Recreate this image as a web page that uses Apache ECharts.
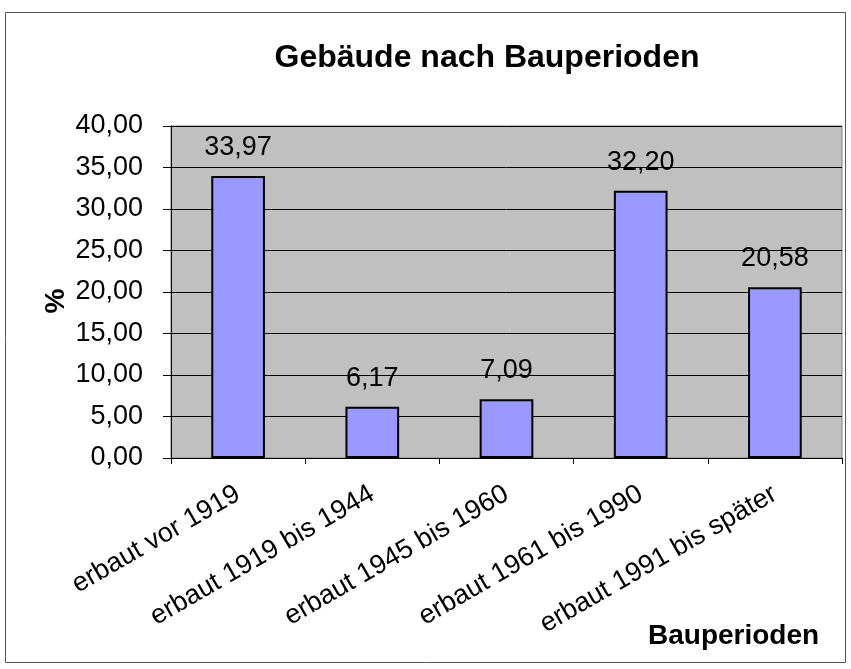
<!DOCTYPE html>
<html>
<head>
<meta charset="utf-8">
<script src="https://cdn.jsdelivr.net/npm/echarts@6/dist/echarts.min.js"></script>
<style>
  html, body { margin: 0; padding: 0; background: #fff; }
  #chart { width: 851px; height: 669px; }
</style>
</head>
<body>
<div id="chart"></div>
<script>
const categories = ['erbaut vor 1919', 'erbaut 1919 bis 1944', 'erbaut 1945 bis 1960', 'erbaut 1961 bis 1990', 'erbaut 1991 bis später']
const values = [33.97, 6.17, 7.09, 32.20, 20.58]
const yTicks = { min: 0, max: 40, interval: 5 }

const chart = echarts.init(document.getElementById('chart'))
const fmt = (v) => Number(v).toFixed(2).replace('.', ',')
const font = 'Arial, "Liberation Sans", sans-serif'

const option = {
  backgroundColor: '#fff',
  animation: false,
  textStyle: { fontFamily: font },
  title: {
    text: 'Gebäude nach Bauperioden',
    left: 482,
    textAlign: 'center',
    top: 37,
    textStyle: { fontSize: 32, fontWeight: 'bold', color: '#000', fontFamily: font }
  },
  graphic: [
    {
      type: 'rect',
      shape: { x: 5.5, y: 12.5, width: 840, height: 650 },
      style: { fill: 'none', stroke: '#555', lineWidth: 1 },
      silent: true
    },
    {
      // y axis title
      type: 'text',
      x: 56,
      y: 301,
      rotation: Math.PI / 2,
      style: { text: '%', font: 'bold 28px ' + font, fill: '#000', align: 'center', verticalAlign: 'middle' }
    },
    {
      // x axis title
      type: 'text',
      left: 648,
      top: 622,
      style: { text: 'Bauperioden', font: 'bold 28px ' + font, fill: '#000' }
    }
  ],
  grid: {
    left: 171,
    right: 9,
    top: 126,
    bottom: 211,
    show: true,
    backgroundColor: '#C0C0C0',
    borderColor: '#808080',
    borderWidth: 1
  },
  xAxis: {
    type: 'category',
    data: categories,
    axisLine: { lineStyle: { color: '#000', width: 1 } },
    axisTick: { show: true, length: 6, alignWithLabel: false, lineStyle: { color: '#000' } },
    axisLabel: {
      rotate: 30,
      fontSize: 27,
      color: '#000',
      margin: 34,
      fontFamily: font
    }
  },
  yAxis: {
    type: 'value',
    min: yTicks.min,
    max: yTicks.max,
    interval: yTicks.interval,
    axisLine: { show: true, lineStyle: { color: '#000' } },
    axisTick: { show: true, length: 8, lineStyle: { color: '#000' } },
    axisLabel: { fontSize: 27, color: '#000', margin: 28, formatter: fmt, fontFamily: font },
    splitLine: { show: true, lineStyle: { color: '#000', width: 1 } }
  },
  series: [
    {
      type: 'bar',
      data: values,
      barWidth: '40%',
      itemStyle: { color: '#9999FF', borderColor: '#000', borderWidth: 2 },
      label: {
        show: true,
        position: 'top',
        distance: 15,
        fontSize: 27,
        color: '#000',
        fontFamily: font,
        formatter: (p) => fmt(p.value)
      }
    }
  ]
}

chart.setOption(option)

window.addEventListener('resize', () => {
  chart.resize()
})
</script>
</body>
</html>
